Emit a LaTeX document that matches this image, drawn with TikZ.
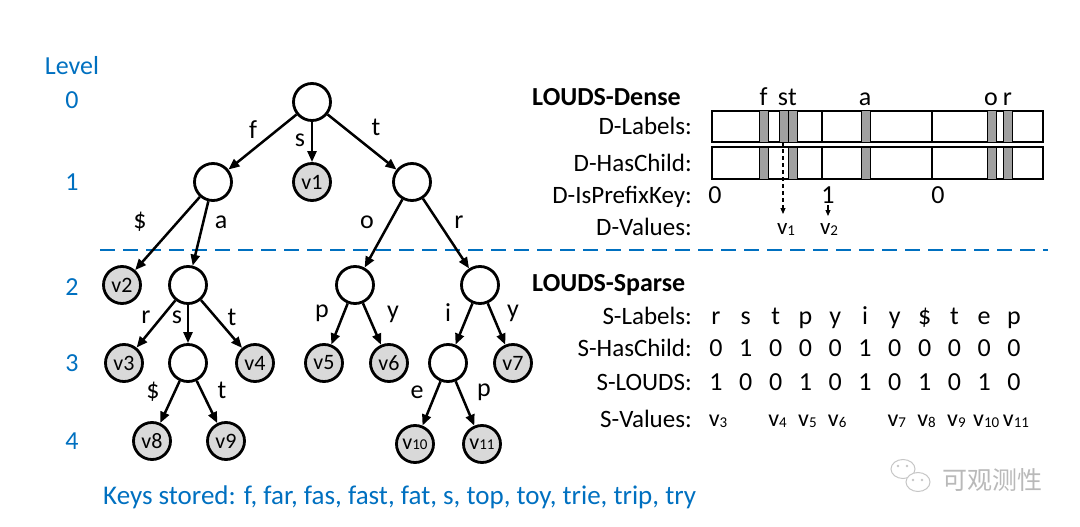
\documentclass[tikz,border=0pt]{standalone}
\usepackage{fontspec}
\setmainfont{Carlito}
\newfontfamily\cjkfont{Noto Sans CJK SC}
\usetikzlibrary{arrows.meta}
\definecolor{levelblue}{RGB}{0,112,192}
\definecolor{leafgray}{RGB}{217,217,217}
\definecolor{bitgray}{RGB}{160,160,160}
\newcommand{\vsmall}[1]{v{\fontsize{15}{16}\selectfont #1}}
\newcommand{\vsub}[1]{v\raisebox{-1.5pt}{\fontsize{15}{16}\selectfont #1}}

\tikzset{
  trienode/.style={circle, draw, line width=2.8pt, minimum size=37pt, inner sep=0pt, fill=white},
  leafnode/.style={trienode, fill=leafgray, font=\fontsize{22}{24}\selectfont},
  edge/.style={line width=2.5pt, -{Triangle[length=11pt,width=9pt]}},
  lvl/.style={text=levelblue, anchor=base, inner sep=0pt},
  rowname/.style={anchor=base east, inner sep=0pt},
  cell/.style={anchor=base, inner sep=0pt},
  bar/.style={draw, line width=1.4pt, fill=white},
  bit/.style={draw, line width=1pt, fill=bitgray}
}

\begin{document}
\begin{tikzpicture}[x=1pt,y=-1pt,font=\fontsize{26}{30}\selectfont]
    \useasboundingbox (0,0) rectangle (1080,527);

    %%%%% levels %%%%%
    \node[lvl] (lvltitle) at (72,75) {Level};
    \foreach \d/\y in {0/108,1/190,2/295,3/371,4/449}
        \node[lvl] (lvl\d) at (72,\y) {\d};

    \draw[levelblue, line width=2.8pt, dash pattern=on 15pt off 8pt] (100,250) -- (1048,250);

    %%%%% trie %%%%%
    \node[trienode] (root) at (312,102) {};
    \node[trienode] (nf) at (213,182) {};
    \node[leafnode] (ns) at (312,182) {v1};
    \node[trienode] (nt) at (412,182) {};

    \node[leafnode] (nfd) at (122,285) {v2};
    \node[trienode] (nfa) at (188,285) {};
    \node[trienode] (nto) at (355,285) {};
    \node[trienode] (ntr) at (480,285) {};

    \node[leafnode] (nfar) at (124,363) {v3};
    \node[trienode] (nfas) at (188,363) {};
    \node[leafnode] (nfat) at (255,363) {v4};
    \node[leafnode] (ntop) at (324,363) {v5};
    \node[leafnode] (ntoy) at (389,363) {v6};
    \node[trienode] (ntri) at (448,363) {};
    \node[leafnode] (ntry) at (513,363) {v7};

    \node[leafnode] (nfasd) at (152,441) {v8};
    \node[leafnode] (nfast) at (226,441) {v9};
    \node[leafnode] (ntrie) at (415,444) {\vsmall{10}};
    \node[leafnode] (ntrip) at (482,444) {\vsmall{11}};

    \draw[edge] (root) -- (nf);
    \draw[edge] (root) -- (ns);
    \draw[edge] (root) -- (nt);
    \draw[edge] (nf) -- (nfd);
    \draw[edge] (nf) -- (nfa);
    \draw[edge] (nt) -- (nto);
    \draw[edge] (nt) -- (ntr);
    \draw[edge] (nfa) -- (nfar);
    \draw[edge] (nfa) -- (nfas);
    \draw[edge] (nfa) -- (nfat);
    \draw[edge] (nto) -- (ntop);
    \draw[edge] (nto) -- (ntoy);
    \draw[edge] (ntr) -- (ntri);
    \draw[edge] (ntr) -- (ntry);
    \draw[edge] (nfas) -- (nfasd);
    \draw[edge] (nfas) -- (nfast);
    \draw[edge] (ntri) -- (ntrie);
    \draw[edge] (ntri) -- (ntrip);

    % edge labels
    \node (lf) at (253,130) {f};
    \node (ls) at (300,140) {s};
    \node (lt) at (376,127) {t};
    \node (lfd) at (140,222) {\$};
    \node (lfa) at (221,222) {a};
    \node (lto) at (367,222) {o};
    \node (ltr) at (459,222) {r};
    \node (lfar) at (146,317) {r};
    \node (lfas) at (177,317) {s};
    \node (lfat) at (232,317) {t};
    \node (ltop) at (322,313) {p};
    \node (ltoy) at (393,314) {y};
    \node (ltri) at (448,313) {i};
    \node (ltry) at (513,313) {y};
    \node (lfasd) at (153,392) {\$};
    \node (lfast) at (222,390) {t};
    \node (ltrie) at (417,392) {e};
    \node (ltrip) at (484,392) {p};

    \node[lvl, anchor=base west, font=\fontsize{27}{30}\selectfont] (keys) at (103,504) {Keys stored: f, far, fas, fast, fat, s, top, toy, trie, trip, try};

    %%%%% LOUDS-Dense %%%%%
    \node[anchor=base west, inner sep=0pt, font=\fontsize{26}{30}\selectfont\bfseries] (dense) at (532,106) {LOUDS-Dense};
    \begin{scope}[font=\fontsize{25}{30}\selectfont]
    \node[rowname] (dlabels) at (692,135) {D-Labels:};
    \node[rowname] (dchild) at (692,171) {D-HasChild:};
    \node[rowname] (dprefix) at (692,203) {D-IsPrefixKey:};
    \node[rowname] (dvalues) at (692,235) {D-Values:};
    \end{scope}

    \draw[bar] (712,111) rectangle (1043,142);
    \draw[bar] (712,147) rectangle (1043,179);
    \foreach \x in {822,932}
        \draw[line width=1.4pt] (\x,111) -- (\x,142) (\x,147) -- (\x,179);
    \foreach \x in {759,779,788,861,987,1003}
        \draw[bit] (\x,111) rectangle ++(9,31);
    \foreach \x in {759,788,861,987,1003}
        \draw[bit] (\x,147) rectangle ++(9,32);
    \foreach \c/\x in {f/763.5,s/783,t/792.5,a/865,o/991,r/1007.5}
        \node[cell] (dl\c) at (\x,106) {\c};

    \node[cell] (dp0) at (715,203) {0};
    \node[cell] (dp1) at (828,203) {1};
    \node[cell] (dp2) at (938,203) {0};
    \node[cell, font=\fontsize{23}{26}\selectfont] (dv1) at (786,234) {\vsub{1}};
    \node[cell, font=\fontsize{23}{26}\selectfont] (dv2) at (829,234) {\vsub{2}};
    \coordinate (sbit) at (783,142);
    \draw[line width=1.1pt, dash pattern=on 4pt off 3pt, -{Triangle[length=6pt,width=5pt]}] (sbit) -- (783,214);
    \draw[line width=1.1pt, -{Triangle[length=6pt,width=5pt]}] (828,205) -- (828,216);

    %%%%% LOUDS-Sparse %%%%%
    \node[anchor=base west, inner sep=0pt, font=\fontsize{26}{30}\selectfont\bfseries] (sparse) at (532,291) {LOUDS-Sparse};
    \begin{scope}[font=\fontsize{25}{30}\selectfont]
    \node[rowname] (slabels) at (692,324) {S-Labels:};
    \node[rowname] (schild) at (692,356) {S-HasChild:};
    \node[rowname] (slouds) at (692,390) {S-LOUDS:};
    \node[rowname] (svalues) at (692,427) {S-Values:};
    \end{scope}

    \foreach \c [count=\k from 0] in {r,s,t,p,y,i,y,\$,t,e,p}
        \node[cell] (sl\k) at ({716+29.8*\k},324) {\c};
    \foreach \b [count=\k from 0] in {0,1,0,0,0,1,0,0,0,0,0}
        \node[cell] (sh\k) at ({716+29.8*\k},356) {\b};
    \foreach \b [count=\k from 0] in {1,0,0,1,0,1,0,1,0,1,0}
        \node[cell] (so\k) at ({716+29.8*\k},390) {\b};
    \foreach \k/\n in {0/3,2/4,3/5,4/6,6/7,7/8,8/9,9/10,10/11}
        \node[cell, font=\fontsize{24}{26}\selectfont] (sv\k) at ({718+29.8*\k},426) {\vsub{\n}};

    %%%%% watermark %%%%%
    \begin{scope}[gray!45, line width=1pt]
        \draw (903,469) ellipse (12 and 9.5);
        \filldraw[fill=white] (918,482) ellipse (12 and 9.5);
        \fill (898,466) circle (1.3) (907,466) circle (1.3);
        \fill (913,480) circle (1.3) (922,480) circle (1.3);
    \end{scope}
    \node[text=gray!55, font=\cjkfont\fontsize{25}{28}\selectfont] (wm) at (992,480) {可观测性};
\end{tikzpicture}
\end{document}
